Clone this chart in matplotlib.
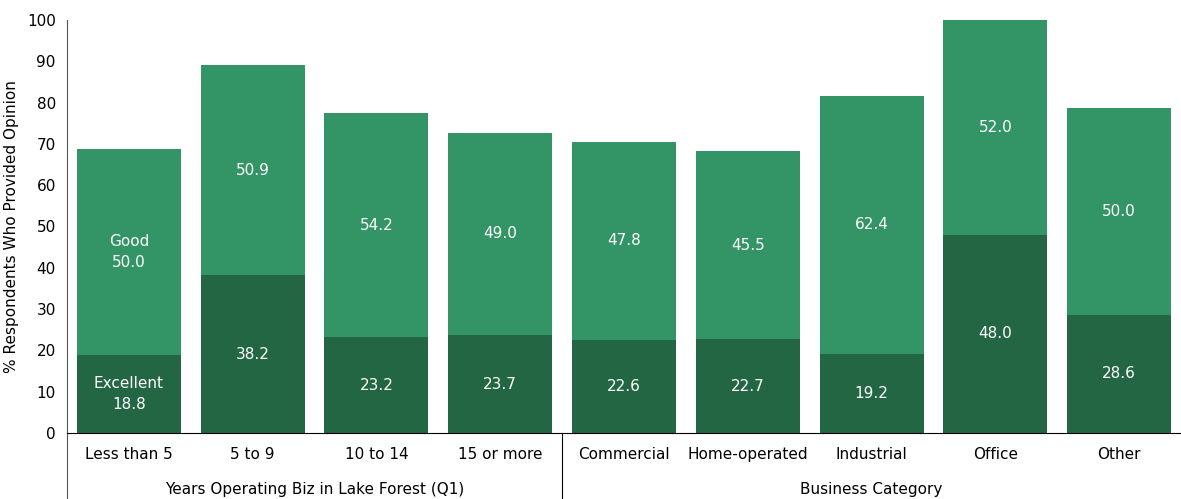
import matplotlib.pyplot as plt
from matplotlib.lines import Line2D
import numpy as np

categories = ["Less than 5", "5 to 9", "10 to 14", "15 or more",
              "Commercial", "Home-operated", "Industrial", "Office", "Other"]
excellent = [18.8, 38.2, 23.2, 23.7, 22.6, 22.7, 19.2, 48.0, 28.6]
good = [50.0, 50.9, 54.2, 49.0, 47.8, 45.5, 62.4, 52.0, 50.0]
groups = ["Years Operating Biz in Lake Forest (Q1)", "Business Category"]
group_sizes = [4, 5]

DARK = "#236644"
LIGHT = "#339466"

plt.rcParams['font.family'] = ['DejaVu Sans']

fig = plt.figure(figsize=(11.81, 4.99), dpi=100)
ax = fig.add_axes([0.0567, 0.1323, 0.9433, 0.8277])

x = np.arange(len(categories))
w = 0.84
ax.bar(x, excellent, w, color=DARK)
ax.bar(x, good, w, bottom=excellent, color=LIGHT)

for i in range(len(categories)):
    e, g = excellent[i], good[i]
    elabel = f"{e:.1f}"
    glabel = f"{g:.1f}"
    if i == 0:
        elabel = "Excellent\n" + elabel
        glabel = "Good\n" + glabel
    ax.text(x[i], e / 2, elabel, ha='center', va='center', color='white',
            fontsize=11, linespacing=1.5)
    ax.text(x[i], e + g / 2, glabel, ha='center', va='center', color='white',
            fontsize=11, linespacing=1.5)

ax.set_xlim(-0.5, len(categories) - 0.5)
ax.set_ylim(0, 100)
ax.set_yticks(range(0, 101, 10))
ax.tick_params(axis='y', length=0, labelsize=11, pad=8)
ax.tick_params(axis='x', length=0, labelsize=11, pad=10)
ax.set_xticks(x)
ax.set_xticklabels(categories)
ax.set_ylabel("% Respondents Who Provided Opinion", fontsize=11, labelpad=6)

for s in ['top', 'right']:
    ax.spines[s].set_visible(False)
ax.spines['left'].set_color('#555555')
ax.spines['bottom'].set_color('black')

# extend y axis line and group separators down to the figure edge
trans = ax.get_xaxis_transform()
ax.add_line(Line2D([-0.5, -0.5], [0, -0.16], transform=trans, color='#555555',
                   lw=0.8, clip_on=False))
start = 0
for name, n in zip(groups, group_sizes):
    end = start + n
    ax.text((start + end - 1) / 2, -0.136, name, transform=trans,
            ha='center', va='center', fontsize=11)
    if end < len(categories):
        ax.add_line(Line2D([end - 0.5, end - 0.5], [0, -0.16], transform=trans,
                           color='black', lw=0.8, clip_on=False))
    start = end

fig.savefig("out.png", dpi=100)
